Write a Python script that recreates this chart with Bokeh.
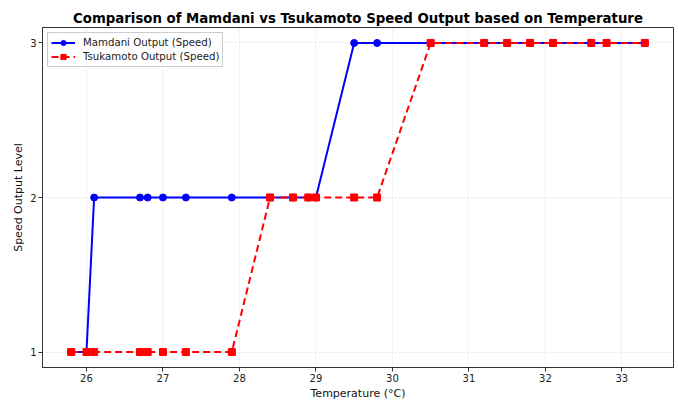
from bokeh.plotting import figure
from bokeh.embed import file_html
from bokeh.resources import INLINE
from bokeh.models import FixedTicker, Range1d, Legend, LegendItem

temperature = [25.8, 26.0, 26.1, 26.7, 26.8, 27.0, 27.3, 27.9, 28.4, 28.7, 28.9, 29.0,
               29.5, 29.8, 30.5, 31.2, 31.5, 31.8, 32.1, 32.6, 32.8, 33.3]
mamdani = [1, 1, 2, 2, 2, 2, 2, 2, 2, 2, 2, 2, 3, 3, 3, 3, 3, 3, 3, 3, 3, 3]
tsukamoto = [1, 1, 1, 1, 1, 1, 1, 1, 2, 2, 2, 2, 2, 2, 3, 3, 3, 3, 3, 3, 3, 3]
x_ticks = [26, 27, 28, 29, 30, 31, 32, 33]
y_ticks = [1, 2, 3]

FONT = "DejaVu Sans"

p = figure(width=676, height=403, output_backend="svg", toolbar_location=None,
           x_range=Range1d(25.425, 33.675), y_range=Range1d(0.9, 3.1),
           title="Comparison of Mamdani vs Tsukamoto Speed Output based on Temperature",
           min_border_left=42, min_border_right=3, min_border_top=27, min_border_bottom=36)

p.title.text_font = FONT
p.title.text_font_size = "13.3px"
p.title.text_font_style = "bold"
p.title.text_color = "#000000"
p.title.align = "center"
p.title.standoff = 4
p.title.offset = 0

m_line = p.line(temperature, mamdani, line_color="blue", line_width=2)
m_pts = p.scatter(temperature, mamdani, marker="circle", size=7, fill_color="blue", line_color="blue")
t_line = p.line(temperature, tsukamoto, line_color="red", line_width=2, line_dash="7 4")
t_pts = p.scatter(temperature, tsukamoto, marker="square", size=7, fill_color="red", line_color="red")

legend = Legend(items=[
    LegendItem(label="Mamdani Output (Speed)", renderers=[m_line, m_pts]),
    LegendItem(label="Tsukamoto Output (Speed)", renderers=[t_line, t_pts]),
], location="top_left")
legend.label_text_font = FONT
legend.label_text_font_size = "10.2px"
legend.label_text_color = "#222222"
legend.glyph_width = 24
legend.glyph_height = 13
legend.label_height = 13
legend.spacing = 1
legend.padding = 3
legend.margin = 5
legend.label_standoff = 8
legend.border_line_color = "#cccccc"
legend.border_line_alpha = 1
legend.background_fill_alpha = 0.8
p.add_layout(legend)

p.xaxis.ticker = FixedTicker(ticks=x_ticks)
p.yaxis.ticker = FixedTicker(ticks=y_ticks)
p.xaxis.axis_label = "Temperature (°C)"
p.yaxis.axis_label = "Speed Output Level"
for ax in [p.xaxis[0], p.yaxis[0]]:
    ax.axis_label_text_font = FONT
    ax.axis_label_text_font_size = "11px"
    ax.axis_label_text_font_style = "normal"
    ax.axis_label_standoff = 2
    ax.major_label_text_font = FONT
    ax.major_label_text_font_size = "10px"
    ax.major_label_standoff = 2
    ax.major_tick_out = 4
    ax.major_tick_in = 0
    ax.minor_tick_out = 0
    ax.minor_tick_in = 0
    ax.axis_line_color = "#333333"
    ax.major_tick_line_color = "#333333"
    ax.major_label_text_color = "#222222"
    ax.axis_label_text_color = "#111111"

p.xgrid.grid_line_color = "#b0b0b0"
p.ygrid.grid_line_color = "#b0b0b0"
p.xgrid.grid_line_alpha = 0.3
p.ygrid.grid_line_alpha = 0.3
p.xgrid.grid_line_dash = "2 2"
p.ygrid.grid_line_dash = "2 2"
p.outline_line_color = "#333333"
p.outline_line_alpha = 1

open("out.html", "w").write(file_html(p, INLINE))
